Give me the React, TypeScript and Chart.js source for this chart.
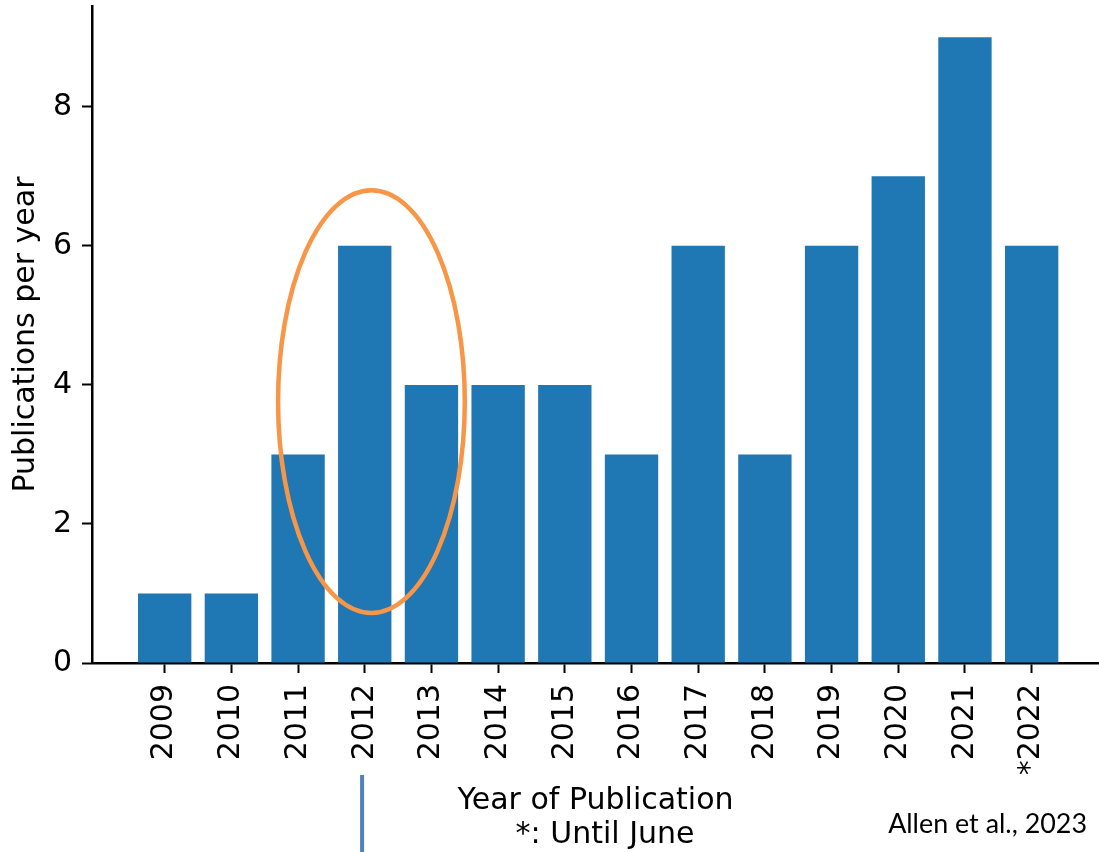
import React, { useEffect, useRef } from 'react';
import { Chart, registerables } from 'chart.js';

Chart.register(...registerables);

// Publication counts per year (2022 covers January to June only)
const years = ['2009', '2010', '2011', '2012', '2013', '2014', '2015', '2016', '2017', '2018', '2019', '2020', '2021', '*2022'];
const publications = [1, 1, 3, 6, 4, 4, 4, 3, 6, 3, 6, 7, 9, 6];
const yTicks = [0, 2, 4, 6, 8];
const yTitle = 'Publications per year';
const xTitle = ['Year of Publication', '  *: Until June'];
const credit = 'Allen et al., 2023';

const FONT = 'DejaVu Sans';
const FONT_SIZE = 30;

// Orange ring around 2012, blue marker under its tick, and the credit line
const overlay = {
  id: 'overlay',
  afterDraw(chart: any) {
    const { ctx, scales, chartArea, width, height } = chart;
    const x = scales.x;
    const y = scales.y;
    ctx.save();

    const cx = x.getPixelForValue(3.1);
    const cy = y.getPixelForValue(3.76);
    const rx = x.getPixelForValue(3.1 + 1.4) - cx;
    const ry = cy - y.getPixelForValue(3.76 + 3.04);
    ctx.strokeStyle = '#F79646';
    ctx.lineWidth = 4.5;
    ctx.beginPath();
    ctx.ellipse(cx, cy, rx, ry, 0, 0, Math.PI * 2);
    ctx.stroke();

    const lx = x.getPixelForValue(2.96);
    ctx.strokeStyle = '#4F81BD';
    ctx.lineWidth = 4;
    ctx.beginPath();
    ctx.moveTo(lx, chartArea.bottom + 112);
    ctx.lineTo(lx, height);
    ctx.stroke();

    ctx.fillStyle = '#000';
    ctx.font = '26px Lato';
    const w = ctx.measureText(credit).width;
    const size = (26 * 199) / w;
    ctx.font = `${size.toFixed(2)}px Lato`;
    ctx.textAlign = 'right';
    ctx.textBaseline = 'alphabetic';
    ctx.fillText(credit, width - 12, 833);

    ctx.restore();
  },
};

export default function App() {
  const ref = useRef<HTMLCanvasElement | null>(null);

  useEffect(() => {
    if (!ref.current) return;
    const chart = new Chart(ref.current, {
      type: 'bar',
      data: {
        datasets: [
          {
            data: publications.map((v, i) => ({ x: i, y: v })),
            backgroundColor: '#1f77b4',
            borderWidth: 0,
            categoryPercentage: 1,
            barPercentage: 0.8,
          },
        ],
      },
      options: {
        animation: false,
        responsive: true,
        maintainAspectRatio: false,
        layout: { padding: { top: 6, right: 0, left: 0, bottom: 0 } },
        plugins: { legend: { display: false }, tooltip: { enabled: false } },
        scales: {
          x: {
            type: 'linear',
            min: -1.09,
            max: 14.01,
            offset: false,
            afterBuildTicks: (s: any) => {
              s.ticks = years.map((_, i) => ({ value: i }));
            },
            afterFit: (s: any) => {
              s.height = 189;
              s.paddingLeft = 0;
              s.paddingRight = 0;
            },
            ticks: {
              autoSkip: false,
              minRotation: 90,
              maxRotation: 90,
              padding: 11,
              color: '#000',
              font: { family: FONT, size: FONT_SIZE },
              callback: (v: any) => years[v as number] ?? '',
            },
            grid: {
              offset: false,
              drawOnChartArea: false,
              drawTicks: true,
              tickLength: 10,
              tickWidth: 2,
              tickColor: '#000',
            },
            border: { display: true, color: '#000', width: 2.5 },
            title: {
              display: true,
              text: xTitle,
              color: '#000',
              font: { family: FONT, size: FONT_SIZE, lineHeight: 1.12 },
              padding: { top: 0, bottom: 0 },
            },
          },
          y: {
            min: 0,
            max: 9.45,
            afterBuildTicks: (s: any) => {
              s.ticks = yTicks.map((v) => ({ value: v }));
            },
            afterFit: (s: any) => {
              s.width = 92;
              s.paddingTop = 0;
              s.paddingBottom = 0;
            },
            ticks: {
              padding: 10,
              color: '#000',
              font: { family: FONT, size: FONT_SIZE },
            },
            grid: {
              drawOnChartArea: false,
              drawTicks: true,
              tickLength: 10,
              tickWidth: 2,
              tickColor: '#000',
            },
            border: { display: true, color: '#000', width: 2.5 },
            title: {
              display: true,
              text: yTitle,
              color: '#000',
              font: { family: FONT, size: FONT_SIZE },
              padding: { top: 8, bottom: 0 },
            },
          },
        },
      },
      plugins: [overlay],
    });
    return () => chart.destroy();
  }, []);

  return (
    <div style={{ position: 'absolute', left: 0, top: 0, width: 1099, height: 852 }}>
      <canvas ref={ref} />
    </div>
  );
}
